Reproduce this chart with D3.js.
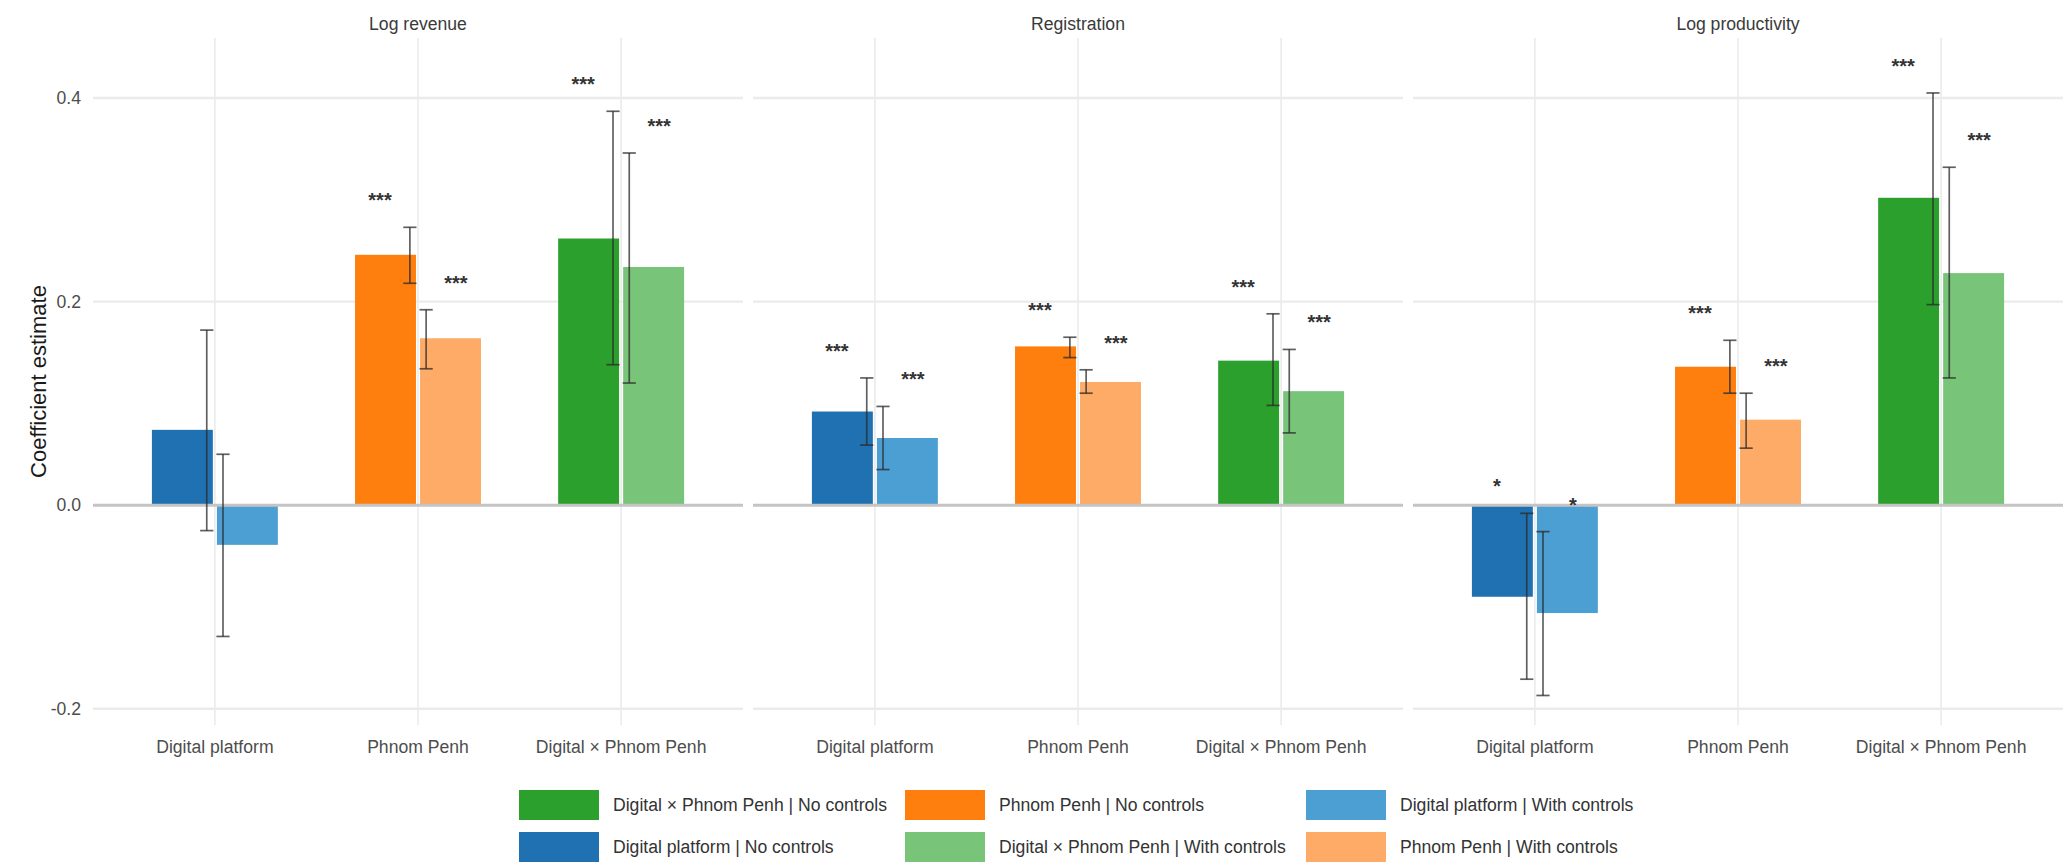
<!DOCTYPE html>
<html>
<head>
<meta charset="utf-8">
<script src="https://cdn.jsdelivr.net/npm/d3@7"></script>
<style>
  html, body { margin: 0; padding: 0; background: #ffffff; }
  svg { display: block; font-family: "Liberation Sans", Arial, sans-serif; }
</style>
</head>
<body>
<svg id="chart" width="2063" height="863"></svg>
<script>
// Coefficient estimates with 95% confidence intervals, by outcome, term and specification.
const outcomes = ["Log revenue", "Registration", "Log productivity"];
const terms = ["Digital platform", "Phnom Penh", "Digital × Phnom Penh"];
const models = ["No controls", "With controls"];
const yTicks = [-0.2, 0.0, 0.2, 0.4];

// Log revenue
const revenueNoControls = [0.074, 0.246, 0.262];
const revenueNoControlsLow = [-0.025, 0.218, 0.138];
const revenueNoControlsHigh = [0.172, 0.273, 0.387];
const revenueNoControlsStars = ["", "***", "***"];
const revenueWithControls = [-0.039, 0.164, 0.234];
const revenueWithControlsLow = [-0.129, 0.134, 0.120];
const revenueWithControlsHigh = [0.050, 0.192, 0.346];
const revenueWithControlsStars = ["", "***", "***"];

// Registration
const registrationNoControls = [0.092, 0.156, 0.142];
const registrationNoControlsLow = [0.059, 0.145, 0.098];
const registrationNoControlsHigh = [0.125, 0.165, 0.188];
const registrationNoControlsStars = ["***", "***", "***"];
const registrationWithControls = [0.066, 0.121, 0.112];
const registrationWithControlsLow = [0.035, 0.110, 0.071];
const registrationWithControlsHigh = [0.097, 0.133, 0.153];
const registrationWithControlsStars = ["***", "***", "***"];

// Log productivity
const productivityNoControls = [-0.090, 0.136, 0.302];
const productivityNoControlsLow = [-0.171, 0.110, 0.197];
const productivityNoControlsHigh = [-0.008, 0.162, 0.405];
const productivityNoControlsStars = ["*", "***", "***"];
const productivityWithControls = [-0.106, 0.084, 0.228];
const productivityWithControlsLow = [-0.187, 0.056, 0.125];
const productivityWithControlsHigh = [-0.026, 0.110, 0.332];
const productivityWithControlsStars = ["*", "***", "***"];

// Fill for each term (rows) and specification (columns)
const termColors = {
  "Digital platform": ["#1f71b1", "#4b9fd2"],
  "Phnom Penh": ["#ff7f0e", "#fdab66"],
  "Digital × Phnom Penh": ["#2ca02c", "#78c479"]
};

// Legend entries in display order (three columns, two rows)
const legendItems = [
  ["Digital × Phnom Penh", "No controls"],
  ["Phnom Penh", "No controls"],
  ["Digital platform", "With controls"],
  ["Digital platform", "No controls"],
  ["Digital × Phnom Penh", "With controls"],
  ["Phnom Penh", "With controls"]
];

// ---- assemble long-format rows ----
const panelSeries = [
  [[revenueNoControls, revenueNoControlsLow, revenueNoControlsHigh, revenueNoControlsStars],
   [revenueWithControls, revenueWithControlsLow, revenueWithControlsHigh, revenueWithControlsStars]],
  [[registrationNoControls, registrationNoControlsLow, registrationNoControlsHigh, registrationNoControlsStars],
   [registrationWithControls, registrationWithControlsLow, registrationWithControlsHigh, registrationWithControlsStars]],
  [[productivityNoControls, productivityNoControlsLow, productivityNoControlsHigh, productivityNoControlsStars],
   [productivityWithControls, productivityWithControlsLow, productivityWithControlsHigh, productivityWithControlsStars]]
];

const rows = [];
outcomes.forEach((outcome, p) => {
  models.forEach((model, m) => {
    const [est, lo, hi, st] = panelSeries[p][m];
    terms.forEach((term, t) => {
      rows.push({ outcome, p, model, m, term, estimate: est[t], low: lo[t], high: hi[t], stars: st[t] });
    });
  });
});

// ---- layout ----
const svg = d3.select("#chart");
const panelLeft = [93, 753, 1413];
const panelWidth = 650;
const panelTop = 38, panelBottom = 725;

const y = d3.scaleLinear().domain([-0.216, 0.459]).range([panelBottom, panelTop]);
const gridColor = "#ebebeb";
const textGray = "#4d4d4d";

const xScales = panelLeft.map(x0 =>
  d3.scalePoint().domain(terms).range([x0, x0 + panelWidth]).padding(0.6)
);
const step = xScales[0].step();

outcomes.forEach((outcome, p) => {
  const x = xScales[p];
  const g = svg.append("g");

  // horizontal major gridlines
  g.selectAll("line.hgrid").data(yTicks.filter(d => d !== 0)).join("line")
    .attr("x1", panelLeft[p]).attr("x2", panelLeft[p] + panelWidth)
    .attr("y1", d => y(d)).attr("y2", d => y(d))
    .attr("stroke", gridColor).attr("stroke-width", 2.4);

  // vertical gridlines at terms
  g.selectAll("line.vgrid").data(terms).join("line")
    .attr("x1", d => x(d)).attr("x2", d => x(d))
    .attr("y1", panelTop).attr("y2", panelBottom)
    .attr("stroke", gridColor).attr("stroke-width", 1.6);

  // strip title
  g.append("text")
    .attr("x", panelLeft[p] + panelWidth / 2).attr("y", 24)
    .attr("text-anchor", "middle").attr("dominant-baseline", "central")
    .attr("font-size", 17.6).attr("fill", "#3a3a3a")
    .text(outcome);

  // x tick labels
  g.selectAll("text.xtick").data(terms).join("text")
    .attr("x", d => x(d)).attr("y", 747)
    .attr("text-anchor", "middle").attr("dominant-baseline", "central")
    .attr("font-size", 17.6).attr("fill", textGray)
    .text(d => d);

  const pRows = rows.filter(r => r.p === p);
  const barW = 0.3 * step;
  const barOffset = [-0.16 * step, 0.16 * step];
  const errOffset = [-0.04 * step, 0.04 * step];
  const starOffset = [-0.187 * step, 0.187 * step];
  const capW = 0.065 * step;

  // bars
  g.selectAll("rect.bar").data(pRows).join("rect")
    .attr("x", d => x(d.term) + barOffset[d.m] - barW / 2)
    .attr("width", barW)
    .attr("y", d => y(Math.max(0, d.estimate)))
    .attr("height", d => Math.abs(y(d.estimate) - y(0)))
    .attr("fill", d => termColors[d.term][d.m]);

  // zero reference line
  g.append("line")
    .attr("x1", panelLeft[p]).attr("x2", panelLeft[p] + panelWidth)
    .attr("y1", y(0)).attr("y2", y(0))
    .attr("stroke", "#c4c4c4").attr("stroke-width", 3);

  // error bars
  const eb = g.selectAll("g.err").data(pRows).join("g")
    .attr("stroke", "#2b2b2b").attr("stroke-opacity", 0.75).attr("stroke-width", 1.7);
  eb.append("line")
    .attr("x1", d => x(d.term) + errOffset[d.m]).attr("x2", d => x(d.term) + errOffset[d.m])
    .attr("y1", d => y(d.low)).attr("y2", d => y(d.high));
  eb.append("line")
    .attr("x1", d => x(d.term) + errOffset[d.m] - capW / 2).attr("x2", d => x(d.term) + errOffset[d.m] + capW / 2)
    .attr("y1", d => y(d.low)).attr("y2", d => y(d.low));
  eb.append("line")
    .attr("x1", d => x(d.term) + errOffset[d.m] - capW / 2).attr("x2", d => x(d.term) + errOffset[d.m] + capW / 2)
    .attr("y1", d => y(d.high)).attr("y2", d => y(d.high));

  // significance stars above the interval
  g.selectAll("text.star").data(pRows.filter(d => d.stars)).join("text")
    .attr("x", d => x(d.term) + starOffset[d.m])
    .attr("y", d => y(d.high + 0.031) + 11.5)
    .attr("text-anchor", "middle")
    .attr("font-size", 20).attr("font-weight", "bold").attr("fill", "#333333")
    .text(d => d.stars);
});

// y axis tick labels
svg.selectAll("text.ytick").data(yTicks).join("text")
  .attr("x", 81).attr("y", d => y(d))
  .attr("text-anchor", "end").attr("dominant-baseline", "central")
  .attr("font-size", 17.6).attr("fill", textGray)
  .text(d => d3.format(".1f")(d).replace("−", "-"));

// y axis title
svg.append("text")
  .attr("transform", `translate(38, ${(panelTop + panelBottom) / 2}) rotate(-90)`)
  .attr("text-anchor", "middle").attr("dominant-baseline", "central")
  .attr("font-size", 22).attr("fill", "#1a1a1a")
  .text("Coefficient estimate");

// legend
const legendX = [519, 905, 1306];
const legendY = [805, 847];
const lg = svg.append("g");
legendItems.forEach(([term, model], i) => {
  const col = i % 3, row = Math.floor(i / 3);
  const m = models.indexOf(model);
  lg.append("rect")
    .attr("x", legendX[col]).attr("y", legendY[row] - 15)
    .attr("width", 80).attr("height", 30)
    .attr("fill", termColors[term][m]);
  lg.append("text")
    .attr("x", legendX[col] + 94).attr("y", legendY[row])
    .attr("dominant-baseline", "central")
    .attr("font-size", 17.6).attr("fill", "#333333")
    .text(`${term} | ${model}`);
});
</script>
</body>
</html>
